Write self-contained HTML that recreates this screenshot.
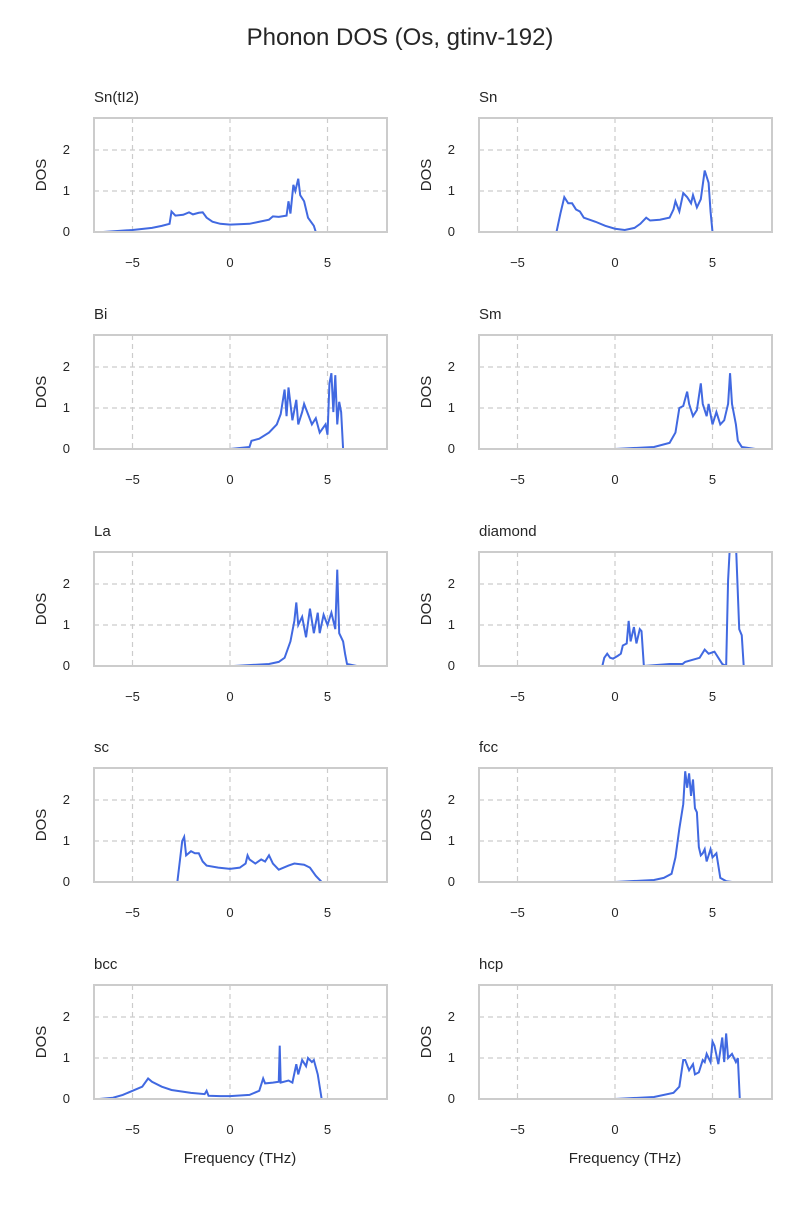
<!DOCTYPE html>
<html><head><meta charset="utf-8"><style>
body{margin:0;background:#fff}
svg text{font-family:"Liberation Sans","DejaVu Sans",sans-serif;fill:#262626}
</style></head><body>
<svg width="800" height="1200" viewBox="0 0 800 1200" xmlns="http://www.w3.org/2000/svg">
<defs>
<clipPath id="c"><rect x="0" y="0" width="293" height="114"/></clipPath>
<g id="frame">
 <g stroke="#cccccc" stroke-width="1.2" stroke-dasharray="5,4">
  <line x1="38.5" y1="0" x2="38.5" y2="114"/><line x1="136" y1="0" x2="136" y2="114"/><line x1="233.5" y1="0" x2="233.5" y2="114"/>
  <line x1="0" y1="73" x2="293" y2="73"/><line x1="0" y1="32" x2="293" y2="32"/>
 </g>
 <text x="-24" y="118" font-size="13" text-anchor="end">0</text>
 <text x="-24" y="77" font-size="13" text-anchor="end">1</text>
 <text x="-24" y="36" font-size="13" text-anchor="end">2</text>
 <text x="38.5" y="149" font-size="13" text-anchor="middle">−5</text>
 <text x="136" y="149" font-size="13" text-anchor="middle">0</text>
 <text x="233.5" y="149" font-size="13" text-anchor="middle">5</text>
 <text transform="translate(-48,57) rotate(-90)" font-size="15" text-anchor="middle">DOS</text>
</g>
</defs>
<text x="400" y="45" font-size="24" text-anchor="middle">Phonon DOS (Os, gtinv-192)</text>

<g transform="translate(94,118)">
 <use href="#frame"/><text x="0" y="-16" font-size="15">Sn(tI2)</text>
 <g clip-path="url(#c)"><polyline fill="none" stroke="#4169e1" stroke-width="2" vector-effect="non-scaling-stroke" transform="translate(136,114) scale(19.5,-41)" points="-6.5,0 -5,0.05 -4,0.1 -3.5,0.15 -3.1,0.2 -3,0.5 -2.8,0.4 -2.4,0.42 -2.1,0.48 -1.9,0.43 -1.6,0.47 -1.4,0.48 -1.2,0.35 -0.9,0.25 -0.5,0.2 0,0.18 1,0.2 1.5,0.25 2,0.3 2.2,0.38 2.5,0.37 2.9,0.4 3,0.75 3.1,0.45 3.25,1.15 3.35,1 3.5,1.3 3.6,0.9 3.8,0.75 4,0.35 4.3,0.15 4.4,0 5.5,0"/></g>
 <rect x="0" y="0" width="293" height="114" fill="none" stroke="#cccccc" stroke-width="2"/>
</g>
<g transform="translate(479,118)">
 <use href="#frame"/><text x="0" y="-16" font-size="15">Sn</text>
 <g clip-path="url(#c)"><polyline fill="none" stroke="#4169e1" stroke-width="2" vector-effect="non-scaling-stroke" transform="translate(136,114) scale(19.5,-41)" points="-3.5,0 -3,0 -2.8,0.45 -2.6,0.85 -2.4,0.7 -2.2,0.7 -2,0.55 -1.8,0.5 -1.6,0.35 -1,0.25 -0.5,0.15 0,0.08 0.5,0.05 0.8,0.08 1,0.1 1.3,0.2 1.6,0.35 1.8,0.28 2.3,0.3 2.8,0.35 3,0.55 3.1,0.75 3.3,0.5 3.5,0.95 3.7,0.85 3.9,0.7 4,0.9 4.2,0.6 4.4,0.8 4.6,1.5 4.8,1.2 4.9,0.5 5,0"/></g>
 <rect x="0" y="0" width="293" height="114" fill="none" stroke="#cccccc" stroke-width="2"/>
</g>

<g transform="translate(94,335)">
 <use href="#frame"/><text x="0" y="-16" font-size="15">Bi</text>
 <g clip-path="url(#c)"><polyline fill="none" stroke="#4169e1" stroke-width="2" vector-effect="non-scaling-stroke" transform="translate(136,114) scale(19.5,-41)" points="0,0 1,0.05 1.1,0.2 1.5,0.25 2,0.4 2.4,0.6 2.6,0.85 2.8,1.45 2.9,0.8 3,1.5 3.2,0.7 3.4,1.2 3.5,0.6 3.7,0.9 3.8,1.1 4,0.85 4.2,0.6 4.4,0.75 4.6,0.4 4.9,0.6 5,0.35 5.1,1.6 5.2,1.85 5.3,0.9 5.4,1.8 5.5,0.6 5.6,1.15 5.7,0.9 5.8,0 6.2,0"/></g>
 <rect x="0" y="0" width="293" height="114" fill="none" stroke="#cccccc" stroke-width="2"/>
</g>
<g transform="translate(479,335)">
 <use href="#frame"/><text x="0" y="-16" font-size="15">Sm</text>
 <g clip-path="url(#c)"><polyline fill="none" stroke="#4169e1" stroke-width="2" vector-effect="non-scaling-stroke" transform="translate(136,114) scale(19.5,-41)" points="0,0 2,0.05 2.8,0.15 3.1,0.4 3.3,1 3.5,1.05 3.7,1.4 3.8,1.1 4,0.8 4.2,0.95 4.4,1.6 4.5,1.1 4.7,0.8 4.8,1.1 5,0.6 5.2,0.9 5.4,0.6 5.6,0.7 5.8,1.1 5.9,1.85 6,1.1 6.2,0.6 6.3,0.2 6.5,0.05 7.2,0"/></g>
 <rect x="0" y="0" width="293" height="114" fill="none" stroke="#cccccc" stroke-width="2"/>
</g>

<g transform="translate(94,552)">
 <use href="#frame"/><text x="0" y="-16" font-size="15">La</text>
 <g clip-path="url(#c)"><polyline fill="none" stroke="#4169e1" stroke-width="2" vector-effect="non-scaling-stroke" transform="translate(136,114) scale(19.5,-41)" points="0.2,0 2,0.05 2.5,0.1 2.8,0.2 3.1,0.6 3.3,1.1 3.4,1.55 3.5,1 3.7,1.2 3.9,0.7 4.1,1.4 4.3,0.8 4.5,1.3 4.6,0.8 4.8,1.25 5,1 5.2,1.3 5.4,0.9 5.5,2.35 5.6,0.8 5.8,0.6 5.9,0.3 6,0.05 6.5,0"/></g>
 <rect x="0" y="0" width="293" height="114" fill="none" stroke="#cccccc" stroke-width="2"/>
</g>
<g transform="translate(479,552)">
 <use href="#frame"/><text x="0" y="-16" font-size="15">diamond</text>
 <g clip-path="url(#c)"><polyline fill="none" stroke="#4169e1" stroke-width="2" vector-effect="non-scaling-stroke" transform="translate(136,114) scale(19.5,-41)" points="-1.37,0 -0.65,0 -0.55,0.2 -0.4,0.3 -0.25,0.2 -0.1,0.18 0.15,0.25 0.3,0.3 0.4,0.5 0.6,0.55 0.7,1.1 0.8,0.6 0.97,0.95 1.1,0.55 1.27,0.9 1.36,0.85 1.48,0 2.8,0.05 3.47,0.05 3.6,0.1 4.34,0.2 4.6,0.4 4.8,0.3 5.1,0.35 5.3,0.2 5.5,0.05 5.7,0 5.8,2.1 5.9,3 6.2,3 6.37,0.9 6.5,0.75 6.6,0 7.4,0"/></g>
 <rect x="0" y="0" width="293" height="114" fill="none" stroke="#cccccc" stroke-width="2"/>
</g>

<g transform="translate(94,768)">
 <use href="#frame"/><text x="0" y="-16" font-size="15">sc</text>
 <g clip-path="url(#c)"><polyline fill="none" stroke="#4169e1" stroke-width="2" vector-effect="non-scaling-stroke" transform="translate(136,114) scale(19.5,-41)" points="-3.5,0 -2.7,0 -2.55,0.6 -2.45,1 -2.35,1.1 -2.25,0.65 -2,0.75 -1.8,0.7 -1.6,0.7 -1.4,0.5 -1.2,0.4 -0.6,0.35 0,0.32 0.5,0.35 0.8,0.45 0.9,0.65 1,0.55 1.3,0.45 1.6,0.55 1.8,0.5 2,0.65 2.2,0.45 2.5,0.3 3,0.4 3.3,0.45 3.8,0.42 4.1,0.35 4.4,0.15 4.7,0 5,0"/></g>
 <rect x="0" y="0" width="293" height="114" fill="none" stroke="#cccccc" stroke-width="2"/>
</g>
<g transform="translate(479,768)">
 <use href="#frame"/><text x="0" y="-16" font-size="15">fcc</text>
 <g clip-path="url(#c)"><polyline fill="none" stroke="#4169e1" stroke-width="2" vector-effect="non-scaling-stroke" transform="translate(136,114) scale(19.5,-41)" points="0,0 2,0.05 2.5,0.1 2.9,0.2 3.1,0.6 3.3,1.3 3.5,1.9 3.6,2.7 3.7,2.3 3.8,2.65 3.9,2.1 4,2.5 4.1,1.8 4.2,1.7 4.3,0.85 4.4,0.65 4.5,0.7 4.6,0.8 4.7,0.5 4.9,0.8 5,0.6 5.2,0.7 5.3,0.4 5.4,0.1 5.7,0.02 6,0"/></g>
 <rect x="0" y="0" width="293" height="114" fill="none" stroke="#cccccc" stroke-width="2"/>
</g>

<g transform="translate(94,985)">
 <use href="#frame"/><text x="0" y="-16" font-size="15">bcc</text>
 <g clip-path="url(#c)"><polyline fill="none" stroke="#4169e1" stroke-width="2" vector-effect="non-scaling-stroke" transform="translate(136,114) scale(19.5,-41)" points="-6.7,0 -6,0.03 -5.5,0.1 -5,0.2 -4.5,0.3 -4.2,0.5 -4,0.42 -3.5,0.3 -3,0.22 -2,0.15 -1.3,0.12 -1.2,0.2 -1.1,0.08 -0.5,0.07 0,0.07 1,0.1 1.5,0.2 1.7,0.5 1.8,0.38 2.2,0.4 2.5,0.42 2.55,1.3 2.6,0.4 3,0.45 3.2,0.4 3.4,0.85 3.5,0.6 3.7,0.95 3.9,0.8 4,1 4.2,0.9 4.3,0.95 4.5,0.6 4.7,0 5.6,0"/></g>
 <rect x="0" y="0" width="293" height="114" fill="none" stroke="#cccccc" stroke-width="2"/>
 <text x="146" y="178" font-size="15" text-anchor="middle">Frequency (THz)</text>
</g>
<g transform="translate(479,985)">
 <use href="#frame"/><text x="0" y="-16" font-size="15">hcp</text>
 <g clip-path="url(#c)"><polyline fill="none" stroke="#4169e1" stroke-width="2" vector-effect="non-scaling-stroke" transform="translate(136,114) scale(19.5,-41)" points="0,0 2,0.05 3,0.15 3.3,0.3 3.5,0.95 3.6,0.95 3.8,0.7 4,0.85 4.1,0.6 4.3,0.65 4.5,0.95 4.6,0.9 4.7,1.1 4.9,0.9 5,1.4 5.1,1.3 5.3,0.85 5.5,1.5 5.6,0.9 5.7,1.6 5.8,1 6,1.1 6.2,0.9 6.3,1 6.4,0 7,0"/></g>
 <rect x="0" y="0" width="293" height="114" fill="none" stroke="#cccccc" stroke-width="2"/>
 <text x="146" y="178" font-size="15" text-anchor="middle">Frequency (THz)</text>
</g>
</svg>
</body></html>
